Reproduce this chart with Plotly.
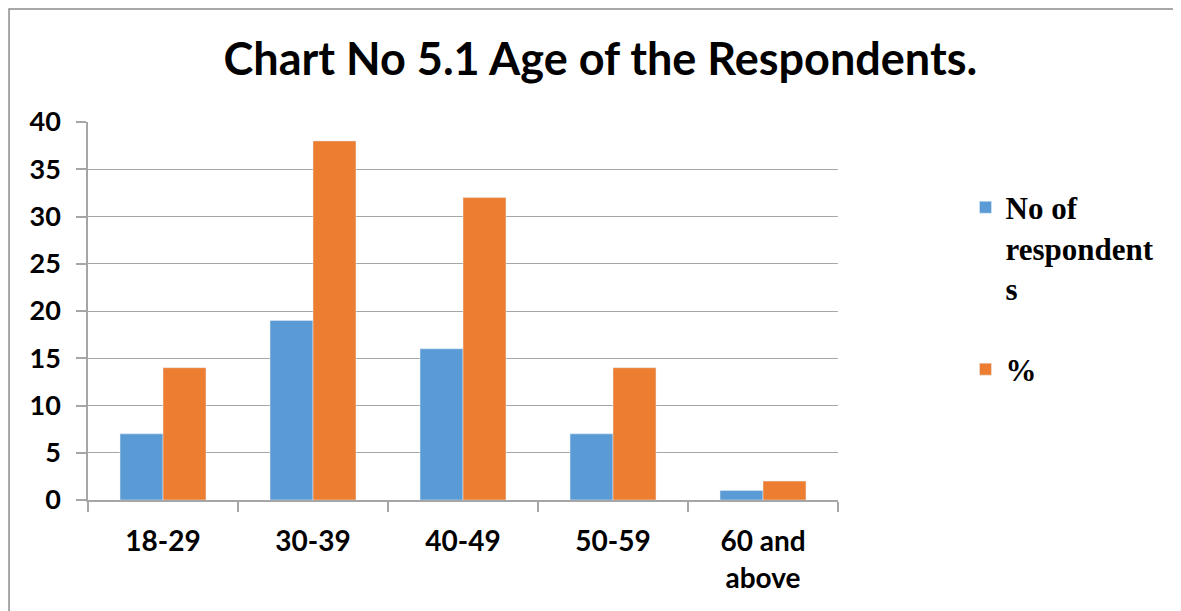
import plotly.graph_objects as go

age_groups = ["18-29", "30-39", "40-49", "50-59", "60 and<br>above"]
respondents = [7, 19, 16, 7, 1]
percent = [14, 38, 32, 14, 2]

grey = "#A6A6A6"

fig = go.Figure()
fig.add_trace(go.Bar(x=age_groups, y=respondents, name="<b>No of<br>respondent<br>s</b>",
                     marker_color="#5B9BD5", legendgroup="a"))
fig.add_trace(go.Bar(x=age_groups, y=percent, name="<b>%</b>",
                     marker_color="#ED7D31", legendgroup="b"))

# page has an 8px body margin, so the figure is a bit smaller than the window
fig.update_layout(
    width=1173, height=603,
    paper_bgcolor="white", plot_bgcolor="white",
    margin=dict(l=80, r=343, t=114, b=111),
    barmode="group", bargap=0.427, bargroupgap=0,
    title=dict(text="<b>Chart No 5.1 Age of the Respondents.</b>",
               x=0.505, xanchor="center", y=0.915, yanchor="middle",
               font=dict(family="Lato", size=45, color="black")),
    font=dict(family="Lato", color="black"),
    legend=dict(x=1.17, y=0.845, xanchor="left", yanchor="top",
                traceorder="grouped", tracegroupgap=38, valign="top",
                font=dict(family="Liberation Serif", size=31, color="black"),
                itemwidth=30),
    showlegend=True,
)

fig.update_xaxes(
    showline=True, linecolor=grey, linewidth=1.5,
    ticks="outside", tickson="boundaries", ticklen=10, tickcolor=grey, tickwidth=1.5,
    tickfont=dict(family="Lato", size=28, color="black", weight="bold"),
    ticklabelstandoff=16,
)
fig.update_yaxes(
    range=[0, 40], dtick=5,
    showline=True, linecolor=grey, linewidth=1.5,
    showgrid=True, gridcolor=grey, gridwidth=1.2,
    zeroline=False,
    ticks="outside", ticklen=10, tickcolor=grey, tickwidth=1.5,
    tickfont=dict(family="Lato", size=27, color="black", weight="bold"),
    ticklabelstandoff=10,
)

# outer chart border
fig.add_shape(type="rect", xref="paper", yref="paper",
              x0=-0.1053, x1=1.46, y0=-0.5, y1=1.299,
              line=dict(color="#8C8C8C", width=1.5), layer="below")

fig.write_html("out.html")
